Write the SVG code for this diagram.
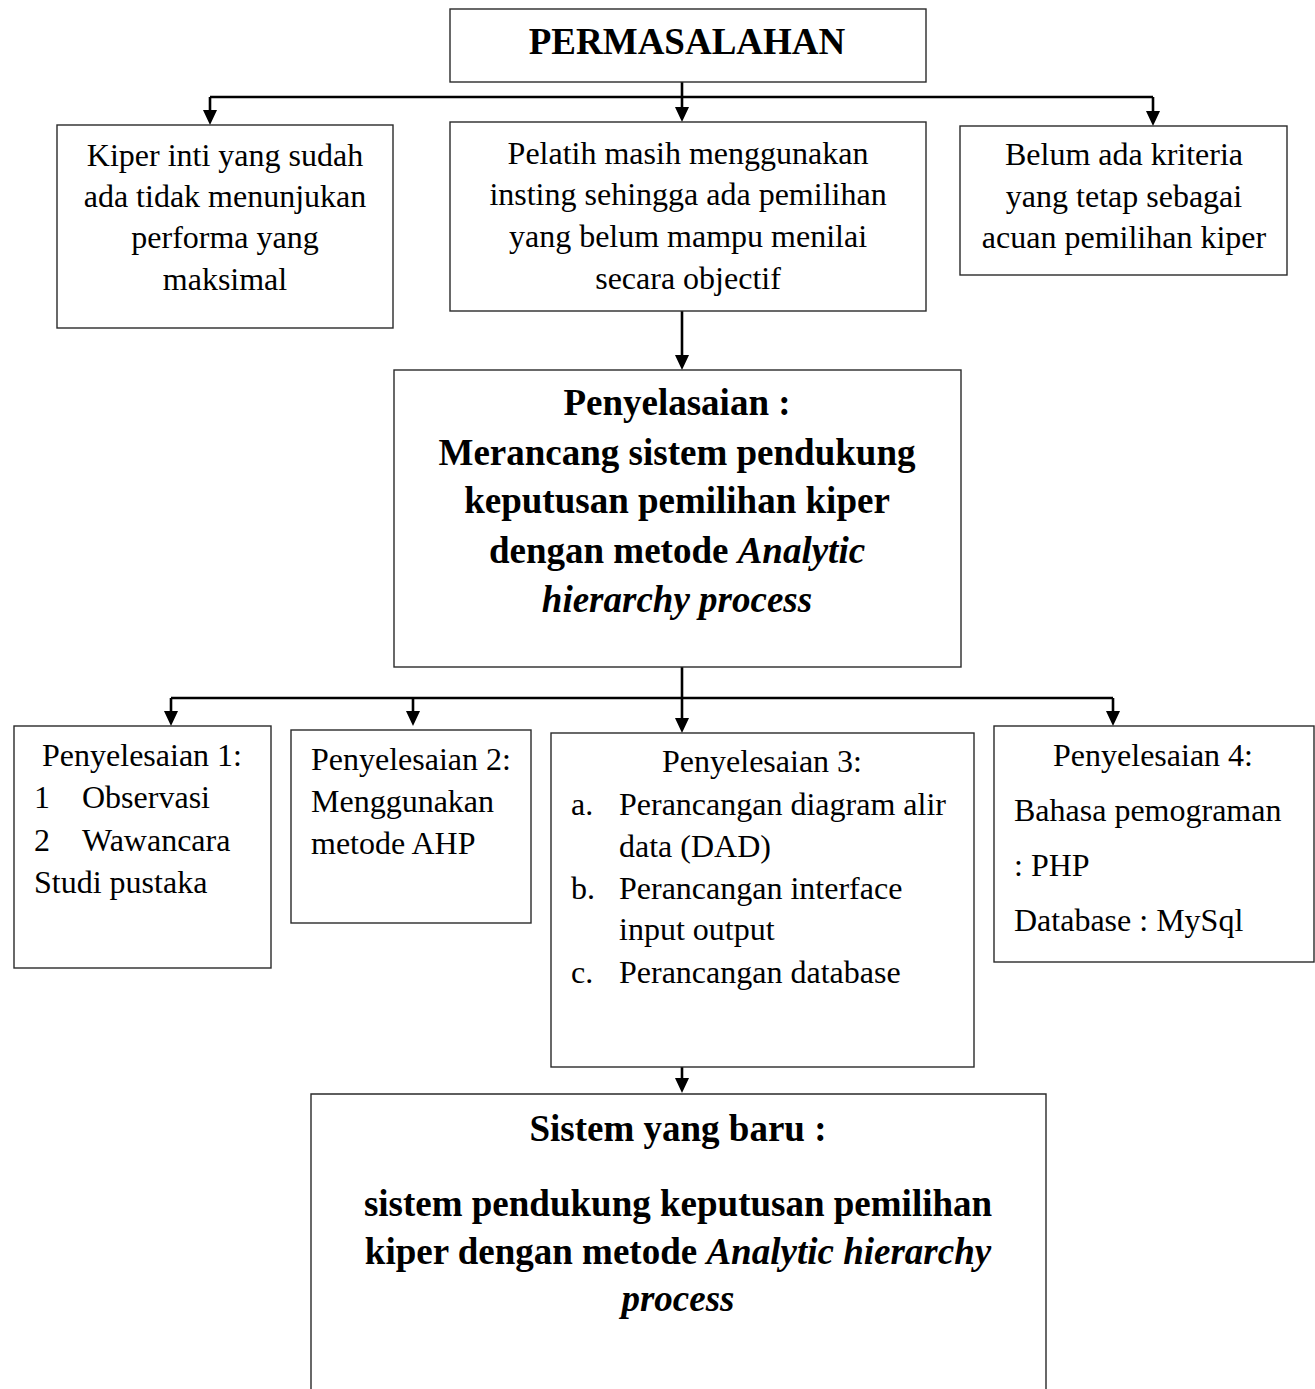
<svg xmlns="http://www.w3.org/2000/svg" width="1315" height="1389" viewBox="0 0 1315 1389">
<style>
.box{fill:#fff;stroke:#2a2a2a;stroke-width:1.4}
.con{fill:none;stroke:#000;stroke-width:2.6}
.t{font-family:"Liberation Serif","Times New Roman",serif;font-size:32px;fill:#000}
.c{text-anchor:middle}
.b{font-weight:bold;font-size:37px}
.i{font-style:italic}
</style>
<defs>
<marker id="ah" markerUnits="userSpaceOnUse" markerWidth="16" markerHeight="16" refX="5" refY="7" orient="auto">
<path d="M0,0 L15,7 L0,14 z" fill="#000"/>
</marker>
</defs>
<rect width="1315" height="1389" fill="#fff"/>

<g id="connectors">
<path class="con" d="M682,82 V97 M210,97 H1153"/>
<path class="con" d="M210,97 V115" marker-end="url(#ah)"/>
<path class="con" d="M682,97 V112" marker-end="url(#ah)"/>
<path class="con" d="M1153,97 V116" marker-end="url(#ah)"/>
<path class="con" d="M682,311 V360" marker-end="url(#ah)"/>
<path class="con" d="M682,667 V698 M171,698 H1113"/>
<path class="con" d="M171,698 V716" marker-end="url(#ah)"/>
<path class="con" d="M413,698 V716" marker-end="url(#ah)"/>
<path class="con" d="M682,698 V723" marker-end="url(#ah)"/>
<path class="con" d="M1113,698 V716" marker-end="url(#ah)"/>
<path class="con" d="M682,1067 V1083" marker-end="url(#ah)"/>
</g>

<g id="permasalahan">
<rect class="box" x="450" y="9" width="476" height="73"/>
<text class="t c b" x="687" y="54">PERMASALAHAN</text>
</g>

<g id="masalah1">
<rect class="box" x="57" y="125" width="336" height="203"/>
<text class="t c" x="225" y="166">Kiper inti yang sudah</text>
<text class="t c" x="225" y="207">ada tidak menunjukan</text>
<text class="t c" x="225" y="248">performa yang</text>
<text class="t c" x="225" y="290">maksimal</text>
</g>

<g id="masalah2">
<rect class="box" x="450" y="122" width="476" height="189"/>
<text class="t c" x="688" y="164">Pelatih masih menggunakan</text>
<text class="t c" x="688" y="205">insting sehingga ada pemilihan</text>
<text class="t c" x="688" y="247">yang belum mampu menilai</text>
<text class="t c" x="688" y="289">secara objectif</text>
</g>

<g id="masalah3">
<rect class="box" x="960" y="126" width="327" height="149"/>
<text class="t c" x="1124" y="165">Belum ada kriteria</text>
<text class="t c" x="1124" y="207">yang tetap sebagai</text>
<text class="t c" x="1124" y="248">acuan pemilihan kiper</text>
</g>

<g id="penyelesaian">
<rect class="box" x="394" y="370" width="567" height="297"/>
<text class="t c b" x="677" y="415">Penyelasaian :</text>
<text class="t c b" x="677" y="465">Merancang sistem pendukung</text>
<text class="t c b" x="677" y="513">keputusan pemilihan kiper</text>
<text class="t c b" x="677" y="563">dengan metode <tspan class="i">Analytic</tspan></text>
<text class="t c b i" x="677" y="612">hierarchy process</text>
</g>

<g id="penyelesaian1">
<rect class="box" x="14" y="726" width="257" height="242"/>
<text class="t c" x="142" y="766">Penyelesaian 1:</text>
<text class="t" x="34" y="808">1</text>
<text class="t" x="82" y="808">Observasi</text>
<text class="t" x="34" y="851">2</text>
<text class="t" x="82" y="851">Wawancara</text>
<text class="t" x="34" y="893">Studi pustaka</text>
</g>

<g id="penyelesaian2">
<rect class="box" x="291" y="730" width="240" height="193"/>
<text class="t" x="311" y="770">Penyelesaian 2:</text>
<text class="t" x="311" y="812">Menggunakan</text>
<text class="t" x="311" y="854">metode AHP</text>
</g>

<g id="penyelesaian3">
<rect class="box" x="551" y="733" width="423" height="334"/>
<text class="t c" x="762" y="772">Penyelesaian 3:</text>
<text class="t" x="571" y="815">a.</text>
<text class="t" x="619" y="815">Perancangan diagram alir</text>
<text class="t" x="619" y="857">data (DAD)</text>
<text class="t" x="571" y="899">b.</text>
<text class="t" x="619" y="899">Perancangan interface</text>
<text class="t" x="619" y="940">input output</text>
<text class="t" x="571" y="983">c.</text>
<text class="t" x="619" y="983">Perancangan database</text>
</g>

<g id="penyelesaian4">
<rect class="box" x="994" y="726" width="320" height="236"/>
<text class="t c" x="1153" y="766">Penyelesaian 4:</text>
<text class="t" x="1014" y="821">Bahasa pemograman</text>
<text class="t" x="1014" y="876">: PHP</text>
<text class="t" x="1014" y="931">Database : MySql</text>
</g>

<g id="sistem-baru">
<path class="box" d="M311,1390 V1094 H1046 V1390"/>
<text class="t c b" x="678" y="1141">Sistem yang baru :</text>
<text class="t c b" x="678" y="1216">sistem pendukung keputusan pemilihan</text>
<text class="t c b" x="678" y="1264">kiper dengan metode <tspan class="i">Analytic hierarchy</tspan></text>
<text class="t c b i" x="678" y="1311">process</text>
</g>
</svg>
